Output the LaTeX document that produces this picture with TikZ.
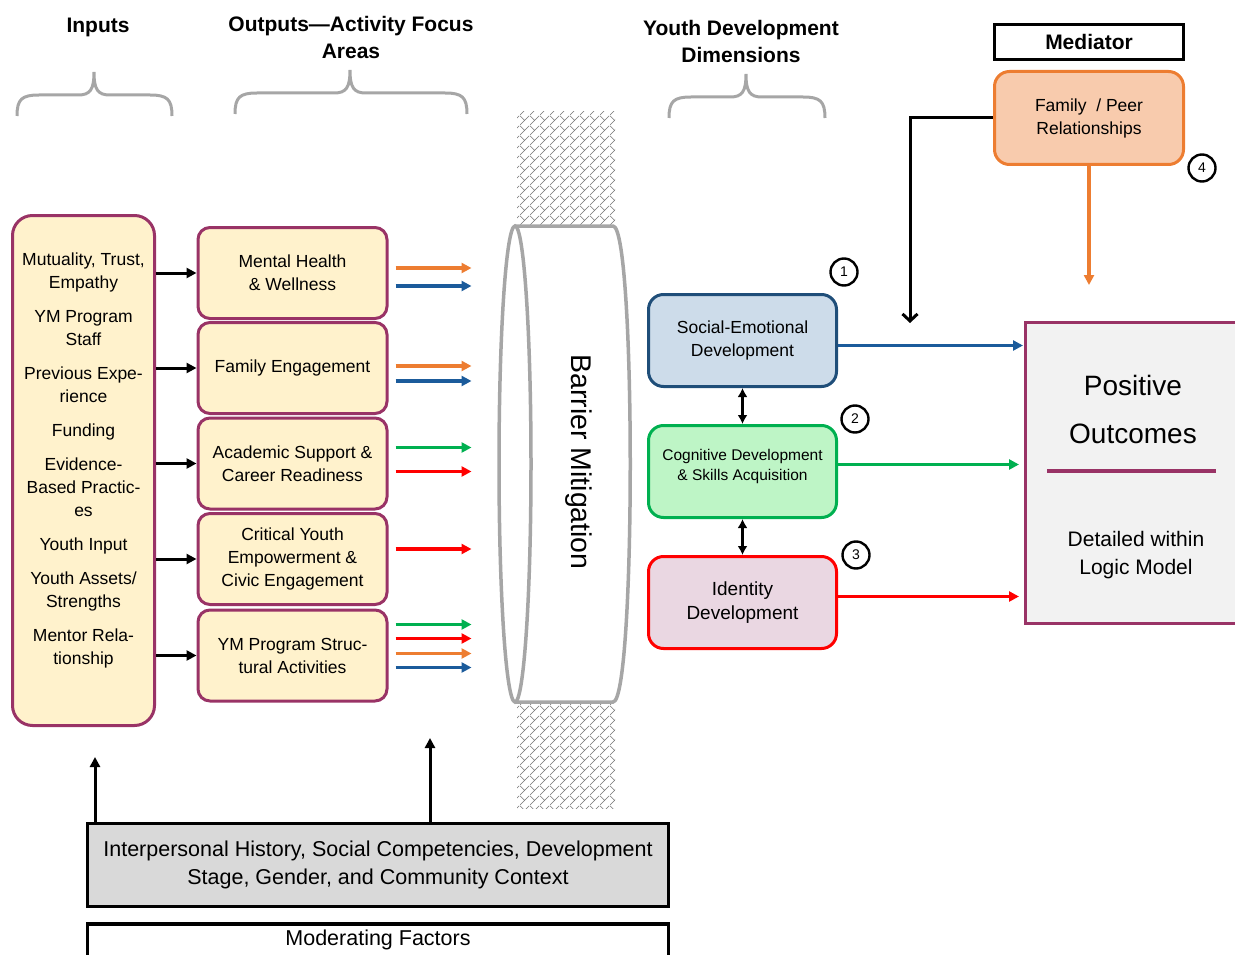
\documentclass[tikz,border=0pt]{standalone}
\usepackage{fontspec}
\setmainfont{Liberation Sans}
\usetikzlibrary{arrows.meta,positioning,patterns,calc}
\definecolor{plum}{HTML}{993366}
\definecolor{cream}{HTML}{FFF2CC}
\definecolor{ora}{HTML}{ED7D31}
\definecolor{orafill}{HTML}{F8CBAD}
\definecolor{blu}{HTML}{1B5B9B}
\definecolor{navy}{HTML}{1F4E79}
\definecolor{blufill}{HTML}{CDDCEA}
\definecolor{grn}{HTML}{00B050}
\definecolor{grnfill}{HTML}{BEF5C6}
\definecolor{rd}{HTML}{FF0000}
\definecolor{rdfill}{HTML}{EAD7E2}
\definecolor{cylgray}{HTML}{A6A6A6}
\pgfdeclarepatternformonly{shingle}{\pgfpointorigin}{\pgfpoint{10pt}{10pt}}{\pgfpoint{10pt}{10pt}}{
  \pgfsetlinewidth{0.6pt}
  \pgfpathmoveto{\pgfpointorigin}\pgfpathlineto{\pgfpoint{10pt}{10pt}}
  \pgfpathmoveto{\pgfpoint{5pt}{5pt}}\pgfpathlineto{\pgfpoint{0pt}{10pt}}
  \pgfusepath{stroke}}
\tikzset{
  txt/.style={font=\fontsize{17.5}{23}\selectfont, align=center, inner sep=0pt},
  head/.style={font=\bfseries\fontsize{21}{27}\selectfont, align=center, inner sep=0pt},
  brace/.style={draw=cylgray, line width=3pt},
  inbox/.style={draw=plum, line width=3pt, fill=cream, rounded corners=20pt,
    minimum width=142pt, minimum height=510pt},
  outbox/.style={txt, draw=plum, line width=3pt, fill=cream, rounded corners=12pt,
    minimum width=189pt, minimum height=91pt},
  dimbox/.style={txt, line width=3pt, rounded corners=15pt,
    minimum width=188pt, minimum height=92pt},
  num/.style={circle, draw, line width=2.4pt, minimum size=27pt, inner sep=0pt,
    font=\fontsize{14}{14}\selectfont},
  arr/.style={line width=3.2pt, -{Triangle[length=10pt,width=10pt]}},
  blk/.style={line width=3pt, -{Triangle[length=10pt,width=10pt]}},
  dbl/.style={line width=3pt, {Latex[length=9pt,width=10pt]}-{Latex[length=9pt,width=10pt]}},
  cyl/.style={draw=cylgray, line width=3.5pt}
}
\begin{document}
\begin{tikzpicture}[x=1pt,y=-1pt]
  \useasboundingbox (0,0) rectangle (1235,955);

  \node[head] (hin) at (98,27) {Inputs};
  \node[head] (hout) at (351,37) {Outputs---Activity Focus\\Areas};
  \node[head] (hdim) at (741,41) {Youth Development\\Dimensions};
  \foreach \xl/\xm/\xr/\yt in {17/94/172/72, 235/350/467/70, 669/746/825/74}
    \draw[brace] ({\xl},{\yt+44}) .. controls ({\xl},{\yt+27}) and ({\xl+5},{\yt+23}) .. ({\xl+22},{\yt+23})
      -- ({\xm-16},{\yt+23}) .. controls ({\xm-4},{\yt+23}) and ({\xm},{\yt+18}) .. ({\xm},{\yt})
      .. controls ({\xm},{\yt+18}) and ({\xm+4},{\yt+23}) .. ({\xm+16},{\yt+23})
      -- ({\xr-22},{\yt+23}) .. controls ({\xr-5},{\yt+23}) and ({\xr},{\yt+27}) .. ({\xr},{\yt+44});

  \node[inbox] (inputs) at (83.5,470.5) {};
  \node[txt] (items) at (83.5,460) {Mutuality, Trust,\\Empathy\\[11pt]YM Program\\Staff\\[11pt]Previous Expe-\\rience\\[11pt]Funding\\[11pt]Evidence-\\Based Practic-\\es\\[11pt]Youth Input\\[11pt]Youth Assets/\\Strengths\\[11pt]Mentor Rela-\\tionship};

  \node[outbox] (mh) at (292.5,273) {Mental Health\\\& Wellness};
  \node[outbox] (fe) at (292.5,368) {Family Engagement};
  \node[outbox] (ac) at (292.5,463.5) {Academic Support \&\\Career Readiness};
  \node[outbox] (cy) at (292.5,559) {Critical Youth\\Empowerment \&\\Civic Engagement};
  \node[outbox] (st) at (292.5,655.5) {YM Program Struc-\\tural Activities};
  \foreach \n in {mh,fe,ac,cy,st}
    \draw[blk] (inputs.east |- \n) -- (\n);
  \foreach \n/\dy/\c in {mh/-5/ora, mh/13/blu, fe/-2/ora, fe/13/blu, ac/-16/grn, ac/8/rd,
      cy/-10/rd, st/-31/grn, st/-17/rd, st/-2/ora, st/12/blu}
    \draw[arr,\c,shorten <=7pt] ($(\n.east)+(0,\dy)$) -- ++(83,0);

  \fill[pattern=shingle, pattern color=black!55] (517,112) rectangle (615,224);
  \fill[pattern=shingle, pattern color=black!55] (517,704) rectangle (615,808);
  \draw[cyl, fill=white] (515,226) -- (613,226) .. controls (636,226) and (636,702) .. (613,702) -- (515,702);
  \draw[cyl, fill=white] (515,464) ellipse [x radius=16, y radius=238];
  \node[font=\fontsize{28.5}{30}\selectfont, rotate=-90] (barrier) at (579,462) {Barrier Mitigation};

  \node[dimbox, draw=navy, fill=blufill] (soc) at (742.5,340.5) {Social-Emotional\\Development};
  \node[dimbox, draw=grn, fill=grnfill, font=\fontsize{15.5}{20}\selectfont] (cog) at (742.5,471.5) {};
  \node[txt, font=\fontsize{15.5}{20}\selectfont] (cogtxt) at (742.5,466) {Cognitive Development\\\& Skills Acquisition};
  \node[dimbox, draw=rd, fill=rdfill, font=\fontsize{19}{24}\selectfont] (idn) at (742.5,602.5) {Identity\\Development};
  \draw[dbl] (soc) -- (cog);
  \draw[dbl] (cog) -- (idn);
  \node[num] (n1) at (844,272) {1};
  \node[num] (n2) at (855,419) {2};
  \node[num] (n3) at (856,555) {3};

  \node[draw, line width=3pt, minimum width=189pt, minimum height=35pt, inner sep=0pt,
    font=\bfseries\fontsize{21}{21}\selectfont] (med) at (1089,42) {Mediator};
  \node[txt, draw=ora, line width=3pt, fill=orafill, rounded corners=15pt,
    minimum width=189pt, minimum height=93pt] (fam) at (1089,118) {Family~~/ Peer\\Relationships};
  \node[num] (n4) at (1202,168) {4};
  \coordinate (drop) at (910,323);
  \draw[line width=3pt, -{Straight Barb[length=7pt,width=15pt]}] (fam.west) -| (drop);
  \draw[arr, ora] (fam.south) -- ++(0,119);

  \node[draw=plum, line width=3.5pt, fill=black!5, minimum width=220pt, minimum height=301pt] (outc) at (1135.5,473) {};
  \node[font=\fontsize{28}{48}\selectfont, align=center] (pos) at (1133,409) {Positive\\Outcomes};
  \draw[plum, line width=3.5pt] (1047,471) -- (1216,471);
  \node[font=\fontsize{21}{28}\selectfont, align=center] (det) at (1136,555) {Detailed within\\Logic Model};
  \draw[arr, blu] (soc.east) ++(0,5) -- ++(185,0);
  \draw[arr, grn] (cog.east) ++(0,-7) -- ++(181,0);
  \draw[arr, rd] (idn.east) ++(0,-6) -- ++(181,0);

  \node[draw, line width=3.5pt, fill=black!15, minimum width=581pt, minimum height=83pt,
    font=\fontsize{21.5}{28}\selectfont, align=center] (mod) at (378,865)
    {Interpersonal History, Social Competencies, Development\\Stage, Gender, and Community Context};
  \node[draw, line width=3.5pt, minimum width=581pt, minimum height=50pt] (modbox) at (378,949) {};
  \node[font=\fontsize{21.5}{24}\selectfont] (modlab) at (378,940) {Moderating Factors};
  \coordinate (up1) at (95,757);
  \coordinate (up2) at (430,738);
  \draw[blk] (mod.north -| up1) -- (up1);
  \draw[blk] (mod.north -| up2) -- (up2);
\end{tikzpicture}
\end{document}
